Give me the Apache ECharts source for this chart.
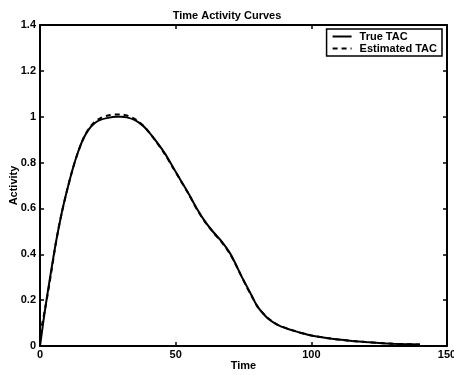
<!DOCTYPE html>
<html>
<head>
<meta charset="utf-8">
<script src="https://cdn.jsdelivr.net/npm/echarts@6/dist/echarts.min.js"></script>
<style>html,body{margin:0;padding:0;background:#fff}#c{width:454px;height:375px}</style>
</head>
<body>
<div id="c"></div>
<script>
const times = [0,2,4,6,8,10,12,14,16,18,20,22,25,28,30,32,35,38,40,43,46,49,52,55,58,61,64,67,70,72,74,76,78,80,82,84,86,88,90,93,96,100,105,110,115,120,125,130,135,140];
const trueTAC = [0,0.17,0.32,0.46,0.58,0.68,0.77,0.845,0.905,0.945,0.97,0.985,0.995,1.0,1.0,0.997,0.985,0.96,0.935,0.89,0.84,0.78,0.72,0.66,0.595,0.54,0.495,0.455,0.405,0.36,0.31,0.265,0.22,0.175,0.145,0.12,0.103,0.09,0.08,0.068,0.058,0.046,0.036,0.028,0.022,0.017,0.013,0.010,0.008,0.006];
const estTAC = [0.05,0.17,0.31,0.46,0.58,0.68,0.77,0.845,0.905,0.948,0.976,0.992,1.005,1.01,1.01,1.005,0.99,0.962,0.935,0.888,0.837,0.778,0.718,0.658,0.593,0.538,0.493,0.452,0.402,0.358,0.31,0.262,0.218,0.175,0.145,0.122,0.104,0.09,0.081,0.069,0.058,0.046,0.036,0.028,0.022,0.017,0.013,0.010,0.008,0.006];
const seriesNames = ['True TAC','Estimated TAC'];
const titleText = 'Time Activity Curves';
const xName = 'Time';
const yName = 'Activity';

const font = 'Liberation Sans, Arial, Helvetica, sans-serif';
const fs = 11;
const chart = echarts.init(document.getElementById('c'), null, {renderer:'canvas'});
const axisLineStyle = {show:true, onZero:false, lineStyle:{color:'#000', width:2}};
const tickStyle = {show:true, inside:true, length:4, lineStyle:{color:'#000', width:1.5}};
const labelStyle = {color:'#000', fontFamily:font, fontWeight:'bold', fontSize:fs};
const option = {
  animation:false,
  backgroundColor:'#fff',
  title:{text:titleText, left:'center', top:5, textStyle:{fontFamily:font, fontWeight:'bold', fontSize:fs, color:'#000'}},
  grid:{left:40, right:7, top:25, bottom:29, containLabel:false, outerBoundsMode:'none'},
  legend:{
    data:seriesNames, orient:'vertical', right:12, top:29,
    backgroundColor:'#fff', borderColor:'#000', borderWidth:1.5, borderRadius:0,
    padding:[2,5,2,5], itemGap:1, itemWidth:19, itemHeight:10, align:'left',
    itemStyle:{opacity:0},
    textStyle:{fontFamily:font, fontWeight:'bold', fontSize:fs, color:'#000', padding:[0,0,0,3]}
  },
  xAxis:[
    {type:'value', min:0, max:150, interval:50, position:'bottom',
     name:xName, nameLocation:'middle', nameGap:14, nameMoveOverlap:false,
     nameTextStyle:{fontFamily:font, fontWeight:'bold', fontSize:fs, color:'#000'},
     axisLine:axisLineStyle, axisTick:tickStyle, axisLabel:Object.assign({margin:3}, labelStyle), splitLine:{show:false}},
    {type:'value', min:0, max:150, interval:50, position:'top',
     axisLine:axisLineStyle, axisTick:tickStyle, axisLabel:{show:false}, splitLine:{show:false}}
  ],
  yAxis:[
    {type:'value', min:0, max:1.4, interval:0.2, position:'left',
     name:yName, nameLocation:'middle', nameGap:21, nameMoveOverlap:false,
     nameTextStyle:{fontFamily:font, fontWeight:'bold', fontSize:fs, color:'#000'},
     axisLine:axisLineStyle, axisTick:tickStyle,
     axisLabel:Object.assign({margin:4, formatter:v=>String(Math.round(v*10)/10)}, labelStyle), splitLine:{show:false}},
    {type:'value', min:0, max:1.4, interval:0.2, position:'right',
     axisLine:axisLineStyle, axisTick:tickStyle, axisLabel:{show:false}, splitLine:{show:false}}
  ],
  series:[
    {name:seriesNames[0], type:'line', symbol:'none', showSymbol:false, smooth:0.3,
     data:times.map((t,i)=>[t,trueTAC[i]]), lineStyle:{color:'#000', width:2, type:'solid'}, itemStyle:{color:'#000'}},
    {name:seriesNames[1], type:'line', symbol:'none', showSymbol:false, smooth:0.3,
     data:times.map((t,i)=>[t,estTAC[i]]), lineStyle:{color:'#000', width:2, type:[5,4]}, itemStyle:{color:'#000'}}
  ]
};
chart.setOption(option);
</script>
</body>
</html>
